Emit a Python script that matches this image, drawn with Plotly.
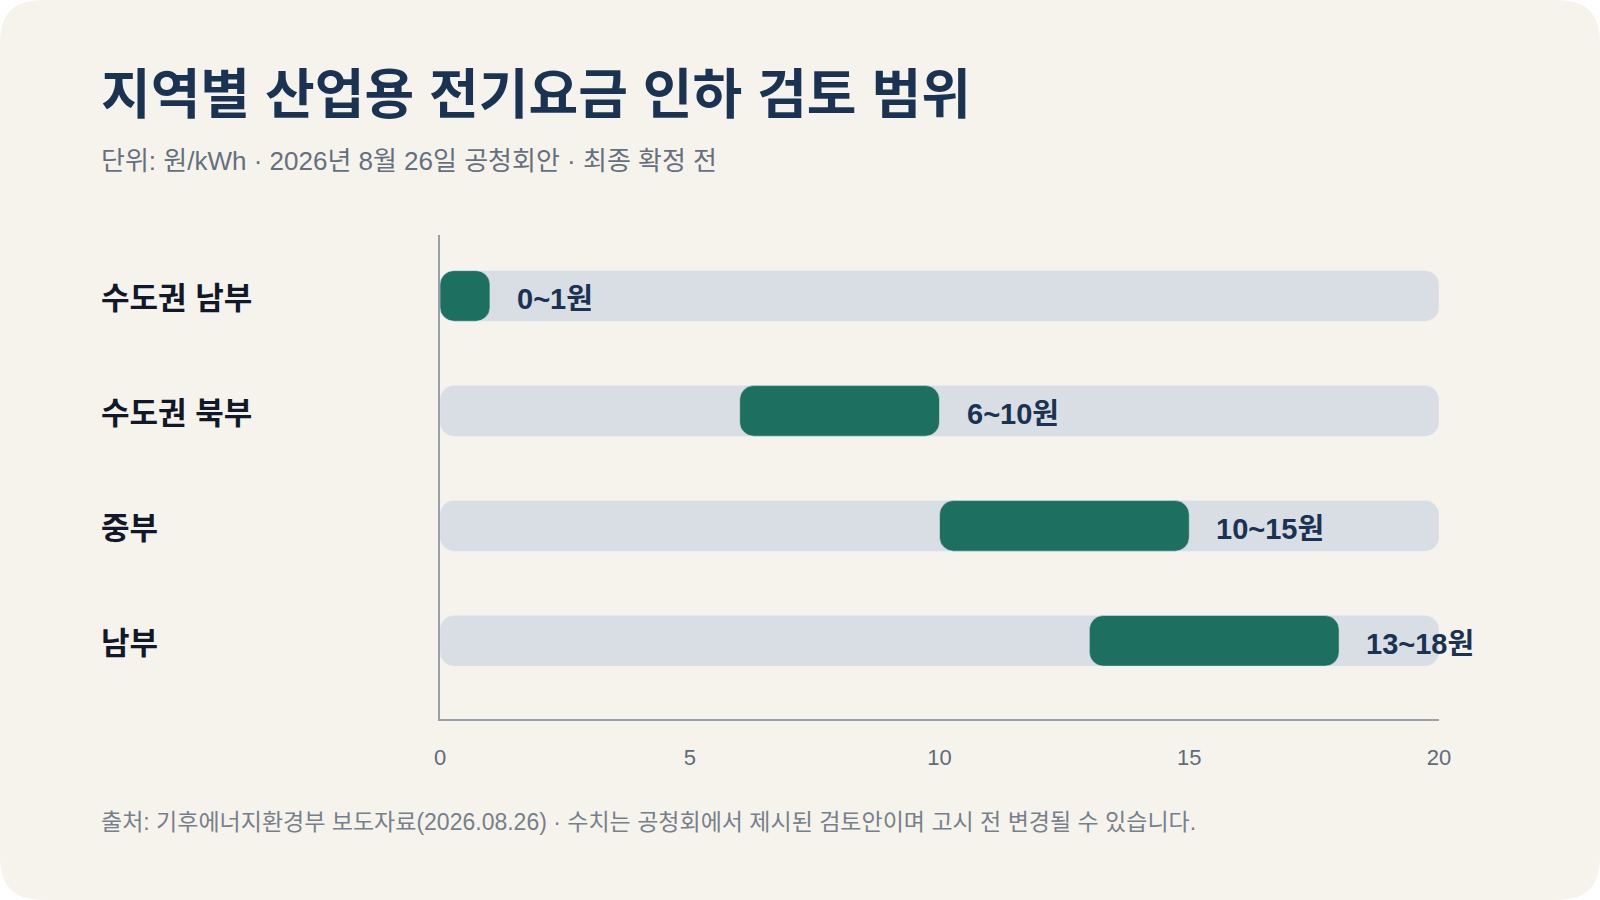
import plotly.graph_objects as go

# 데이터
regions = ["수도권 남부", "수도권 북부", "중부", "남부"]
low = [0, 6, 10, 13]
high = [1, 10, 15, 18]
scale_max = 20

W, H = 1600, 900
L, R, T, B = 440, 161, 235, 181
PW, PH = W - L - R, H - T - B


def px(x):
    return (x - L) / PW


def py(y):
    return 1 - (y - T) / PH


FONT = "Liberation Sans, Arial, Noto Sans CJK KR, sans-serif"
NAVY = "#1b3352"
GREEN = "#1d7060"
TRACK = "#d9dde4"
CARD = "#f6f3ed"

fig = go.Figure()

# 배경 트랙 (0~20)
fig.add_trace(go.Bar(
    y=regions, x=[scale_max] * len(regions), base=[0] * len(regions),
    orientation="h", marker=dict(color=TRACK, cornerradius=14),
    width=0.44, hoverinfo="skip", showlegend=False,
))

# 인하 범위
fig.add_trace(go.Bar(
    y=regions, x=[h - l for l, h in zip(low, high)], base=low,
    orientation="h", marker=dict(color=GREEN, cornerradius=14),
    width=0.44, showlegend=False,
    hovertemplate="%{y}: %{base}~%{x}원<extra></extra>",
))

# 카드 배경 (둥근 모서리)
r = 42
x0, x1, y0, y1 = 0, W, 0, H
path = (
    f"M {px(x0 + r)},{py(y0)} L {px(x1 - r)},{py(y0)} "
    f"Q {px(x1)},{py(y0)} {px(x1)},{py(y0 + r)} "
    f"L {px(x1)},{py(y1 - r)} Q {px(x1)},{py(y1)} {px(x1 - r)},{py(y1)} "
    f"L {px(x0 + r)},{py(y1)} Q {px(x0)},{py(y1)} {px(x0)},{py(y1 - r)} "
    f"L {px(x0)},{py(y0 + r)} Q {px(x0)},{py(y0)} {px(x0 + r)},{py(y0)} Z"
)
fig.add_shape(type="path", path=path, xref="paper", yref="paper",
              fillcolor=CARD, line=dict(width=0), layer="below")

annotations = []
# 제목 / 부제목 / 출처
annotations.append(dict(
    text="<b>지역별 산업용 전기요금 인하 검토 범위</b>", x=px(99), y=py(95),
    xref="paper", yref="paper", xanchor="left", yanchor="middle", showarrow=False,
    font=dict(size=54, color=NAVY, family=FONT),
))
annotations.append(dict(
    text="단위: 원/kWh · 2026년 8월 26일 공청회안 · 최종 확정 전", x=px(99), y=py(161),
    xref="paper", yref="paper", xanchor="left", yanchor="middle", showarrow=False,
    font=dict(size=26, color="#66707c", family=FONT),
))
annotations.append(dict(
    text="출처: 기후에너지환경부 보도자료(2026.08.26) · 수치는 공청회에서 제시된 검토안이며 고시 전 변경될 수 있습니다.",
    x=px(99), y=py(822),
    xref="paper", yref="paper", xanchor="left", yanchor="middle", showarrow=False,
    font=dict(size=23, color="#77808a", family=FONT),
))

# 지역 라벨 & 값 라벨
for name, l, h in zip(regions, low, high):
    annotations.append(dict(
        text=f"<b>{name}</b>", x=px(99), y=name, xref="paper", yref="y",
        xanchor="left", yanchor="middle", showarrow=False, yshift=-3,
        font=dict(size=31, color="#111827", family=FONT),
    ))
    annotations.append(dict(
        text=f"<b>{l}~{h}원</b>", x=h, y=name, xref="x", yref="y",
        xanchor="left", yanchor="middle", showarrow=False, xshift=25, yshift=-3,
        font=dict(size=29, color=NAVY, family=FONT),
    ))

fig.update_layout(
    width=W, height=H,
    margin=dict(l=L, r=R, t=T, b=B),
    paper_bgcolor="white", plot_bgcolor="rgba(0,0,0,0)",
    barmode="overlay", font=dict(family=FONT),
    annotations=annotations,
)
fig.update_xaxes(
    range=[0, scale_max], dtick=5, showgrid=False, zeroline=False,
    showline=True, linecolor="#9aa0a8", linewidth=1.5, ticks="",
    tickfont=dict(size=22, color="#5f6b78", family=FONT), ticklabelstandoff=18,
)
fig.update_yaxes(
    range=[3.68, -0.53], showgrid=False, zeroline=False, showticklabels=False,
    showline=True, linecolor="#9aa0a8", linewidth=1.5, ticks="",
)

fig.write_html("out.html", config={"displayModeBar": False},
               post_script="document.body.style.margin='0';")
